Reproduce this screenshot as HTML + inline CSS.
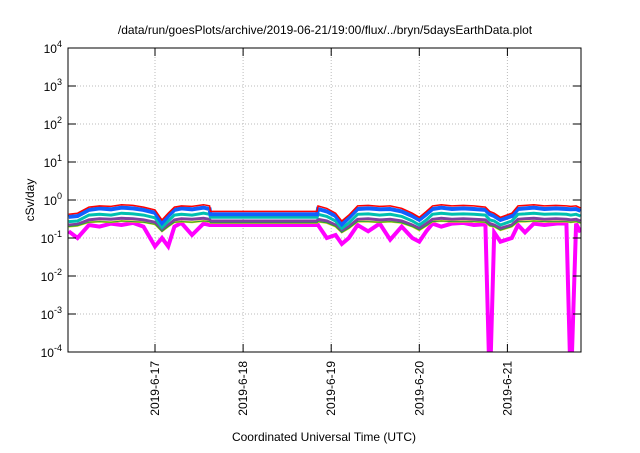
<!DOCTYPE html>
<html><head><meta charset="utf-8"><style>
body{margin:0;background:#fff;}
svg{font-family:"Liberation Sans",sans-serif;}
</style></head><body>
<svg id="chart" width="640" height="448" xmlns="http://www.w3.org/2000/svg">
<defs><clipPath id="clip"><rect x="68" y="48" width="513" height="304"/></clipPath></defs>
<rect width="640" height="448" fill="#fff"/>
<text x="325" y="34" font-size="12" text-anchor="middle" fill="#000">/data/run/goesPlots/archive/2019-06-21/19:00/flux/../bryn/5daysEarthData.plot</text>
<text x="324" y="441" font-size="12" text-anchor="middle">Coordinated Universal Time (UTC)</text>
<text transform="translate(34,200) rotate(-90)" font-size="12" text-anchor="middle">cSv/day</text>
<g id="grid"></g>
<g id="series" clip-path="url(#clip)"></g>
<rect x="68" y="48" width="513" height="304" fill="none" stroke="#000" stroke-width="1"/>
<g id="ticks"></g>
</svg>
<script>
const yExps=[-4,-3,-2,-1,0,1,2,3,4];
const xTickDays=[1,2,3,4,5];
const xTickLabels=["2019-6-17","2019-6-18","2019-6-19","2019-6-20","2019-6-21"];
const times=[0.02,0.12,0.25,0.37,0.5,0.62,0.75,0.87,1.0,1.08,1.15,1.22,1.3,1.42,1.55,1.62,1.63,2.84,2.85,2.95,3.05,3.12,3.2,3.3,3.42,3.55,3.67,3.8,3.92,4.0,4.08,4.15,4.25,4.37,4.5,4.62,4.75,4.8,4.85,4.92,5.05,5.12,5.2,5.3,5.42,5.55,5.67,5.72,5.78,5.83];
const red=[0.42,0.45,0.65,0.7,0.68,0.75,0.72,0.65,0.55,0.3,0.45,0.65,0.7,0.68,0.75,0.7,0.5,0.5,0.7,0.6,0.45,0.28,0.4,0.7,0.72,0.68,0.7,0.6,0.45,0.35,0.5,0.7,0.75,0.7,0.72,0.7,0.65,0.5,0.45,0.35,0.45,0.7,0.72,0.75,0.7,0.72,0.7,0.68,0.7,0.62];
const blue=[0.36,0.38,0.55,0.6,0.57,0.63,0.6,0.55,0.46,0.25,0.38,0.55,0.6,0.57,0.63,0.58,0.42,0.42,0.58,0.5,0.38,0.23,0.34,0.58,0.6,0.57,0.58,0.5,0.38,0.3,0.42,0.58,0.63,0.58,0.6,0.58,0.55,0.42,0.38,0.3,0.38,0.58,0.6,0.63,0.58,0.6,0.58,0.57,0.58,0.52];
const cyan=[0.27,0.28,0.4,0.42,0.4,0.45,0.43,0.4,0.34,0.19,0.28,0.4,0.42,0.4,0.45,0.42,0.35,0.35,0.42,0.37,0.28,0.18,0.25,0.42,0.43,0.4,0.42,0.37,0.28,0.22,0.3,0.42,0.45,0.42,0.43,0.42,0.4,0.3,0.28,0.22,0.28,0.42,0.43,0.45,0.42,0.43,0.42,0.4,0.42,0.38];
const purple=[0.22,0.23,0.3,0.32,0.31,0.33,0.32,0.3,0.26,0.16,0.22,0.3,0.32,0.31,0.33,0.31,0.28,0.28,0.31,0.28,0.22,0.15,0.2,0.31,0.32,0.3,0.31,0.28,0.22,0.18,0.24,0.31,0.33,0.31,0.32,0.31,0.3,0.24,0.22,0.18,0.22,0.31,0.32,0.33,0.31,0.32,0.31,0.3,0.31,0.28];
const yellow=[0.2,0.21,0.26,0.27,0.26,0.28,0.27,0.26,0.23,0.15,0.2,0.26,0.27,0.26,0.28,0.27,0.25,0.25,0.27,0.25,0.2,0.14,0.18,0.27,0.27,0.26,0.27,0.25,0.2,0.16,0.21,0.27,0.28,0.27,0.27,0.27,0.26,0.21,0.2,0.16,0.2,0.27,0.27,0.28,0.27,0.27,0.27,0.26,0.27,0.25];
const magenta=[0.15,0.1,0.22,0.2,0.24,0.22,0.25,0.2,0.06,0.1,0.06,0.2,0.25,0.12,0.24,0.22,0.22,0.22,0.22,0.1,0.12,0.07,0.1,0.22,0.15,0.24,0.09,0.2,0.1,0.08,0.15,0.24,0.2,0.24,0.25,0.22,0.23,0.00001,0.14,0.08,0.1,0.22,0.14,0.24,0.22,0.24,0.25,0.00001,0.24,0.14];
const seriesList=[["series-magenta",magenta,"#ff00ff",4],["series-yellow",yellow,"#e8e000",2],["series-purple",purple,"#8040a0",3],["series-green",yellow,"#20a040",1],["series-cyan",cyan,"#00c0b0",3],["series-blue",blue,"#1060ff",4],["series-red",red,"#ff0000",1.5]];
const NS="http://www.w3.org/2000/svg";
function xs(d){return 155+(d-1)*88.1;}
function ys(v){return 352-(Math.log10(v)+4)*38;}
const grid=document.getElementById('grid'),ticks=document.getElementById('ticks'),sg=document.getElementById('series');
yExps.forEach(e=>{
  const y=ys(Math.pow(10,e));
  if(e>-4&&e<4){const l=document.createElementNS(NS,'line');
  
  
  l.setAttribute('x1',68);l.setAttribute('x2',581);l.setAttribute('y1',y);l.setAttribute('y2',y);
  l.setAttribute('stroke','#bbb');l.setAttribute('stroke-dasharray','1,2');grid.appendChild(l);
  ['68','581'].forEach((x0,i)=>{const t=document.createElementNS(NS,'line');
  
  
  t.setAttribute('x1',x0);t.setAttribute('x2',i?573:76);t.setAttribute('y1',y);t.setAttribute('y2',y);t.setAttribute('stroke','#000');ticks.appendChild(t);});}
  const tx=document.createElementNS(NS,'text');
  
  
  tx.setAttribute('x',62);tx.setAttribute('y',y+5);tx.setAttribute('text-anchor','end');tx.setAttribute('font-size','12');
  tx.innerHTML='10<tspan dy="-6" font-size="9">'+e+'</tspan>';ticks.appendChild(tx);
});
xTickDays.forEach((d,i)=>{
  const x=xs(d);
  const l=document.createElementNS(NS,'line');
  
  
  l.setAttribute('x1',x);l.setAttribute('x2',x);l.setAttribute('y1',48);l.setAttribute('y2',352);
  l.setAttribute('stroke','#bbb');l.setAttribute('stroke-dasharray','1,2');grid.appendChild(l);
  [[48,56],[352,344]].forEach(p=>{const t=document.createElementNS(NS,'line');
  
  
  t.setAttribute('x1',x);t.setAttribute('x2',x);t.setAttribute('y1',p[0]);t.setAttribute('y2',p[1]);t.setAttribute('stroke','#000');ticks.appendChild(t);});
  const tx=document.createElementNS(NS,'text');
  
  
  tx.setAttribute('transform','translate('+(x+4)+',361) rotate(-90)');tx.setAttribute('text-anchor','end');tx.setAttribute('font-size','12');
  tx.textContent=xTickLabels[i];ticks.appendChild(tx);
});
seriesList.forEach(s=>{
  const p=document.createElementNS(NS,'polyline');
  
  
  p.setAttribute('points',times.map((t,i)=>xs(t).toFixed(1)+','+ys(s[1][i]).toFixed(1)).join(' '));
  p.setAttribute('fill','none');p.setAttribute('stroke',s[2]);p.setAttribute('stroke-width',s[3]);p.setAttribute('stroke-linejoin','miter');
  sg.appendChild(p);
});
</script>
</body></html>
